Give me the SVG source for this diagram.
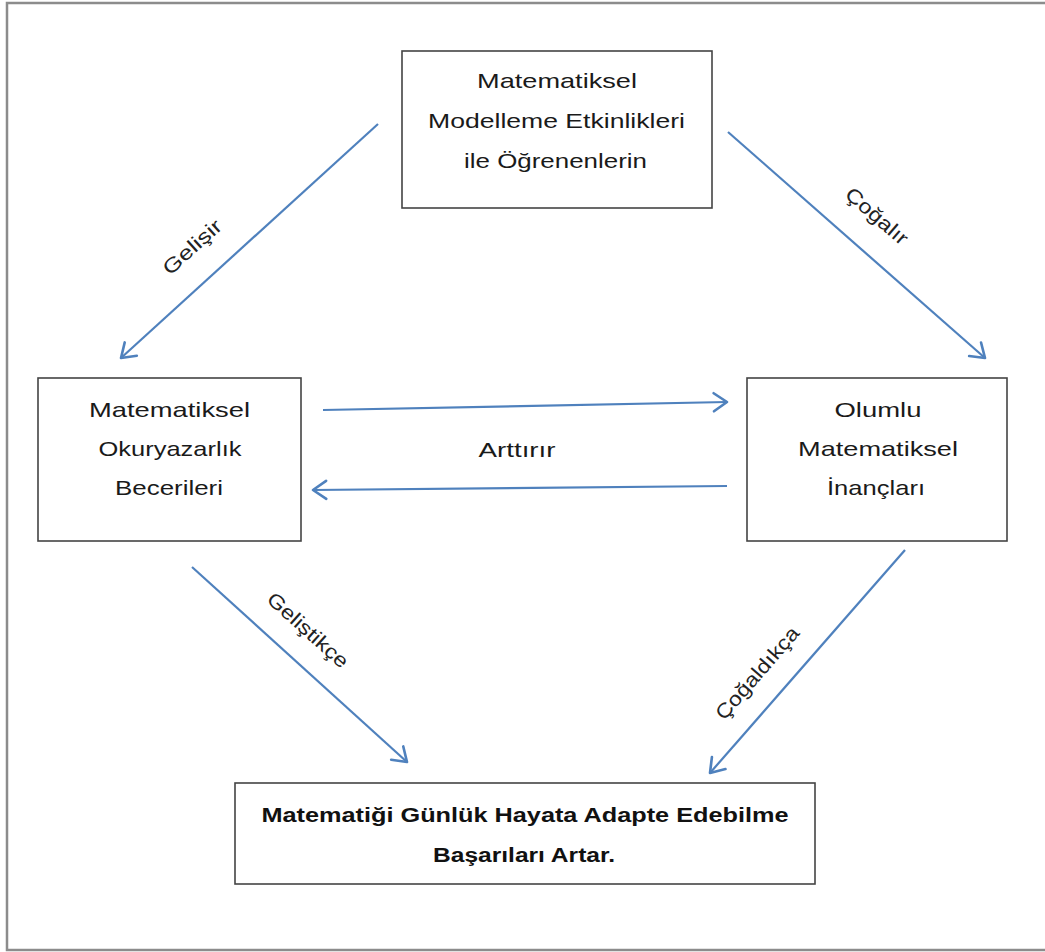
<svg xmlns="http://www.w3.org/2000/svg" width="1045" height="952" viewBox="0 0 1045 952">
  <defs>
    <marker id="open-arrow" markerUnits="userSpaceOnUse" markerWidth="24" markerHeight="24" viewBox="-14 -10 16 20" refX="0" refY="0" orient="auto">
      <path d="M -11 -7.5 L 0 0 L -11 7.5" fill="none" stroke="#4f81bd" stroke-width="2.2" stroke-linecap="round" stroke-linejoin="round"/>
    </marker>
    <style>
      .frame { fill: none; stroke: #8c8c8c; stroke-width: 2.5; }
      .box { fill: #ffffff; stroke: #444444; stroke-width: 1.6; }
      .lbl { font-family: "Liberation Sans", Arial, sans-serif; font-size: 21px; fill: #1a1a1a; text-anchor: middle; }
      .bold { font-family: "Liberation Sans", Arial, sans-serif; font-size: 20px; font-weight: bold; fill: #111111; text-anchor: middle; }
      .edge-lbl { font-family: "Liberation Sans", Arial, sans-serif; font-size: 20px; fill: #222222; text-anchor: middle; }
      .conn { fill: none; stroke: #4f81bd; stroke-width: 2.2; marker-end: url(#open-arrow); }
    </style>
  </defs>

  <rect width="1045" height="952" fill="#ffffff"/>
  <!-- page frame -->
  <rect class="frame" x="7" y="3" width="1050" height="947"/>

  <!-- connectors -->
  <g id="connectors">
    <line class="conn" x1="378" y1="124" x2="121" y2="358"/>
    <line class="conn" x1="728" y1="132" x2="985" y2="358"/>
    <line class="conn" x1="323" y1="410" x2="727" y2="402"/>
    <line class="conn" x1="727" y1="486" x2="313" y2="490"/>
    <line class="conn" x1="192" y1="567" x2="407" y2="762"/>
    <line class="conn" x1="905" y1="550" x2="710" y2="773"/>

    <text class="edge-lbl" transform="translate(192 247) rotate(-42)" y="7" textLength="72" lengthAdjust="spacingAndGlyphs">Gelişir</text>
    <text class="edge-lbl" transform="translate(877 216) rotate(41)" y="7" textLength="76" lengthAdjust="spacingAndGlyphs">Çoğalır</text>
    <text class="lbl" x="517" y="457" textLength="77" lengthAdjust="spacingAndGlyphs">Arttırır</text>
    <text class="edge-lbl" transform="translate(308 630) rotate(42)" y="7" textLength="102" lengthAdjust="spacingAndGlyphs">Geliştikçe</text>
    <text class="edge-lbl" transform="translate(757 673) rotate(-49)" y="7" textLength="116" lengthAdjust="spacingAndGlyphs">Çoğaldıkça</text>
  </g>

  <g id="node-modelleme">
    <rect class="box" x="402" y="51" width="310" height="157"/>
    <text class="lbl" x="557" y="88" textLength="160" lengthAdjust="spacingAndGlyphs">Matematiksel</text>
    <text class="lbl" x="556.5" y="128" textLength="257" lengthAdjust="spacingAndGlyphs">Modelleme Etkinlikleri</text>
    <text class="lbl" x="555.5" y="168" textLength="183" lengthAdjust="spacingAndGlyphs">ile Öğrenenlerin</text>
  </g>

  <g id="node-okuryazarlik">
    <rect class="box" x="38" y="378" width="263" height="163"/>
    <text class="lbl" x="169.5" y="417" textLength="161" lengthAdjust="spacingAndGlyphs">Matematiksel</text>
    <text class="lbl" x="170" y="456" textLength="143" lengthAdjust="spacingAndGlyphs">Okuryazarlık</text>
    <text class="lbl" x="169" y="495" textLength="108" lengthAdjust="spacingAndGlyphs">Becerileri</text>
  </g>

  <g id="node-inanclar">
    <rect class="box" x="747" y="378" width="260" height="163"/>
    <text class="lbl" x="878" y="417" textLength="87" lengthAdjust="spacingAndGlyphs">Olumlu</text>
    <text class="lbl" x="878" y="456" textLength="160" lengthAdjust="spacingAndGlyphs">Matematiksel</text>
    <text class="lbl" x="876" y="495" textLength="98" lengthAdjust="spacingAndGlyphs">İnançları</text>
  </g>

  <g id="node-basari">
    <rect class="box" x="235" y="783" width="580" height="101"/>
    <text class="bold" x="525" y="822" textLength="527" lengthAdjust="spacingAndGlyphs">Matematiği Günlük Hayata Adapte Edebilme</text>
    <text class="bold" x="524" y="862" textLength="182" lengthAdjust="spacingAndGlyphs">Başarıları Artar.</text>
  </g>
</svg>
